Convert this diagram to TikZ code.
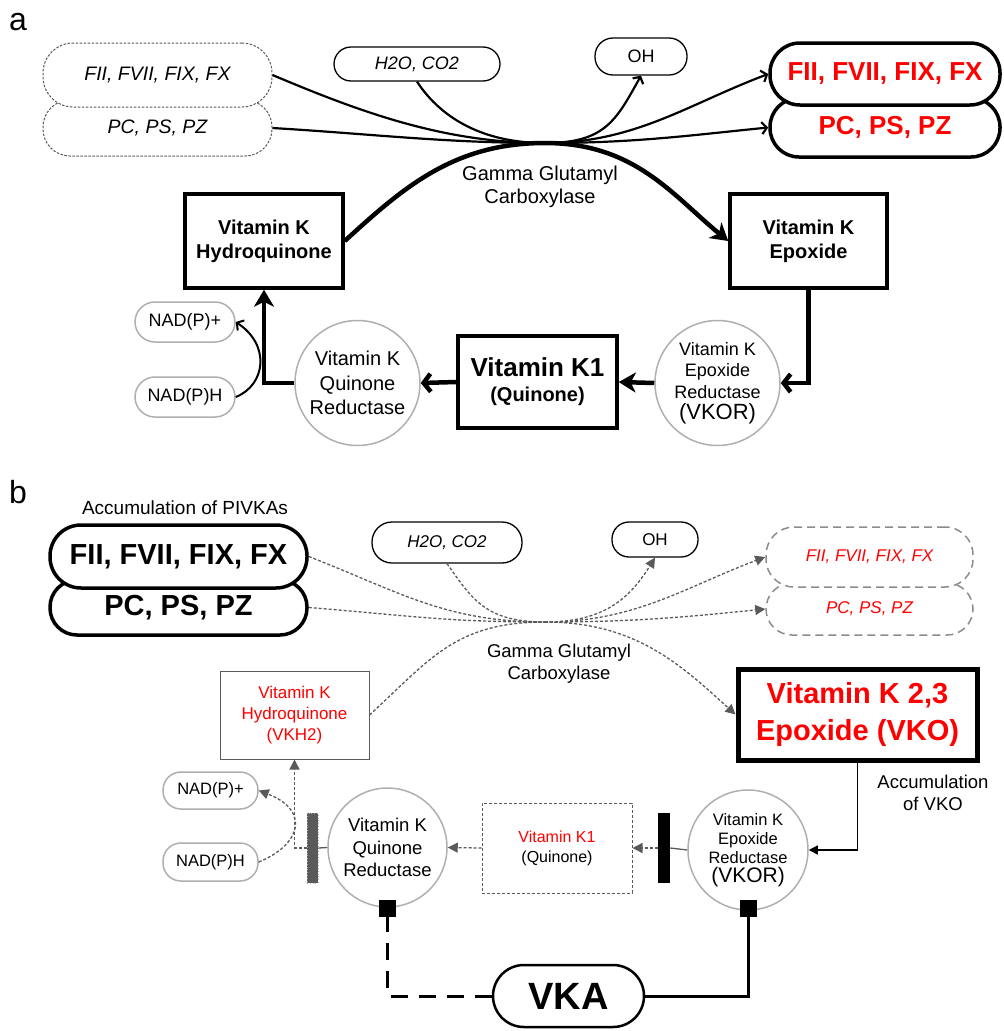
\documentclass[tikz,border=0pt]{standalone}
\usepackage{fontspec}
\setmainfont{Liberation Sans}
\usetikzlibrary{arrows.meta,calc}
\definecolor{dgray}{RGB}{90,90,90}
\definecolor{lgray}{RGB}{175,175,175}
\definecolor{mgray}{RGB}{140,140,140}
\newcommand\myfs[2]{\fontsize{#1}{#2}\selectfont}
\begin{document}
\begin{tikzpicture}[x=1pt,y=-1pt,
  every node/.style={inner sep=0pt, align=center},
  thickA/.style={line width=4.5pt},
  stl/.style={-{Stealth[length=17pt,width=20pt,inset=5pt]}},
  brb/.style={-{Straight Barb[length=7pt,width=18pt]}},
  thinA/.style={line width=2.2pt},
  tbarb/.style={-{Straight Barb[length=5pt,width=12pt]}},
  dl/.style={draw=dgray, line width=1.3pt, dash pattern=on 3pt off 2pt},
  dtip/.style={-{Triangle[length=10pt,width=10pt]}},
  dboxA/.style={draw=dgray, line width=1pt, dash pattern=on 2.5pt off 1.5pt, font=\myfs{19.5}{23}\itshape, minimum width=229pt},
  pillk/.style={draw=black, line width=1.3pt},
  rboxA/.style={draw=black, line width=3.5pt, text=red, font=\myfs{26}{30}\bfseries, minimum width=230pt},
  bbox/.style={draw=black, line width=3.5pt, font=\myfs{20}{24}\bfseries},
  circA/.style={circle, draw=lgray, line width=1.5pt, minimum size=125pt},
  nadA/.style={draw=lgray, line width=1.5pt, rounded corners=20pt, minimum width=100pt, minimum height=40pt, font=\myfs{18}{21}},
  kbox/.style={draw=black, line width=3.5pt, font=\myfs{29}{33}\bfseries, minimum width=257pt},
  rdb/.style={draw=mgray, line width=1.5pt, dash pattern=on 8pt off 5pt, text=red, font=\myfs{17}{20}\itshape, minimum width=207pt},
  nadB/.style={draw=lgray, line width=1.5pt, rounded corners=18pt, minimum width=95pt, minimum height=37pt, font=\myfs{16.5}{20}},
  circB/.style={circle, draw=lgray, line width=1.5pt},
  blk/.style={fill=black, minimum width=17pt, minimum height=17pt}
]
\useasboundingbox (0,0) rectangle (1004,1031);

% ---------------- part a ----------------
\node[anchor=base west, font=\myfs{32}{36}] (la) at (9,30) {a};

\node[dboxA, minimum height=56pt, rounded corners=27pt] (pca) at (157.5,128) {\raisebox{3pt}{PC, PS, PZ}};
\node[dboxA, fill=white, minimum height=64pt, rounded corners=30pt] (fiia) at (157.5,75) {FII, FVII, FIX, FX};

\node[pillk, minimum width=166pt, minimum height=34pt, rounded corners=17pt, font=\myfs{18}{21}\itshape] (h2oa) at (417,64) {H2O, CO2};
\node[pillk, minimum width=92pt, minimum height=37pt, rounded corners=18pt, font=\myfs{18}{21}] (oha) at (641,56.5) {OH};

\node[rboxA, minimum height=59pt, rounded corners=29pt] (rpca) at (885,127.5) {PC, PS, PZ};
\node[rboxA, fill=white, minimum height=62pt, rounded corners=30pt] (rfiia) at (885,74) {FII, FVII, FIX, FX};

\node[font=\myfs{20}{23}] (gtxta) at (540,187) {Gamma Glutamyl\\Carboxylase};

\node[bbox, minimum width=158pt, minimum height=94pt] (hqa) at (264,241) {Vitamin K\\Hydroquinone};
\node[bbox, minimum width=157pt, minimum height=94pt] (epa) at (808.5,241) {Vitamin K\\Epoxide};
\node[bbox, minimum width=159pt, minimum height=92pt] (k1a) at (537.5,382) {\myfs{26}{28}Vitamin K1\\[1pt]\myfs{20}{24}(Quinone)};

\node[circA, font=\myfs{18}{21.5}] (vkora) at (717.5,383) {Vitamin K\\Epoxide\\Reductase\\\myfs{22}{23}(VKOR)};
\node[circA, font=\myfs{20}{24.5}] (qra) at (357.5,383) {Vitamin K\\Quinone\\Reductase};

\node[nadA] (nadpa) at (185,322) {NAD(P)+};
\node[nadA] (nadha) at (185,397) {NAD(P)H};

\coordinate (gca) at (545,143);

\draw[thinA] (fiia.east) .. controls +(90,38) and +(-100,0) .. (gca);
\draw[thinA] (pca.east) .. controls +(100,6) and +(-100,0) .. (gca);
\draw[thinA] (h2oa.south) .. controls +(25,38) and +(-60,0) .. (gca);
\draw[thinA,tbarb] (gca) .. controls +(60,0) and +(-25,45) .. (oha.south);
\draw[thinA,tbarb] (gca) .. controls +(90,0) and +(-80,30) .. (rfiia.west);
\draw[thinA,tbarb] (gca) .. controls +(90,0) and +(-80,8) .. (rpca.west);

\draw[thickA,stl] (hqa.east) .. controls +(60,-55) and +(-90,0) .. (gca) .. controls +(90,0) and +(-55,-45) .. (epa.west);

\draw[thickA,brb] (epa.south) |- (vkora.east);
\draw[thickA,stl] (vkora.west) -- (k1a.east);
\draw[thickA,brb] (k1a.west) -- (qra.east);
\draw[thickA,stl] (qra.west) -| (hqa.south);
\draw[line width=2pt,tbarb] (nadha.east) .. controls +(30,-12) and +(35,23) .. (nadpa.east);

% ---------------- part b ----------------
\node[anchor=base west, font=\myfs{32}{36}] (lb) at (9,503) {b};
\node[font=\myfs{19}{22}] (accp) at (185,508) {Accumulation of PIVKAs};

\node[kbox, minimum height=55pt, rounded corners=27pt] (pcb) at (178.5,607.5) {\raisebox{4pt}{PC, PS, PZ}};
\node[kbox, fill=white, minimum height=63pt, rounded corners=31pt] (fiib) at (178.5,556.5) {FII, FVII, FIX, FX};

\node[pillk, minimum width=150pt, minimum height=41pt, rounded corners=20pt, font=\myfs{17}{20}\itshape] (h2ob) at (447,542.5) {H2O, CO2};
\node[pillk, minimum width=86pt, minimum height=35pt, rounded corners=17pt, font=\myfs{17}{20}] (ohb) at (655,539.5) {OH};

\node[rdb, minimum height=52pt, rounded corners=26pt] (rpcb) at (869.5,609) {PC, PS, PZ};
\node[rdb, fill=white, minimum height=60pt, rounded corners=28pt] (rfiib) at (869.5,557) {FII, FVII, FIX, FX};

\node[font=\myfs{18.5}{22}] (gtxtb) at (559,664) {Gamma Glutamyl\\Carboxylase};

\node[draw=dgray, line width=1pt, minimum width=149pt, minimum height=88pt, text=red, font=\myfs{17}{21}] (vkh2) at (294.5,715) {Vitamin K\\Hydroquinone\\(VKH2)};
\node[draw=black, line width=5pt, minimum width=239pt, minimum height=91pt, text=red, font=\myfs{29}{37}\bfseries] (vko) at (857.5,714.5) {Vitamin K 2,3\\Epoxide (VKO)};
\node[font=\myfs{18.5}{21.5}] (accv) at (933,793) {Accumulation\\of VKO};

\node[circB, minimum size=120pt, font=\myfs{16.5}{19}] (vkorb) at (748,850) {Vitamin K\\Epoxide\\Reductase\\\myfs{21}{23}(VKOR)};
\node[draw=dgray, line width=1pt, dash pattern=on 3pt off 2pt, minimum width=150pt, minimum height=90pt, font=\myfs{16}{20}] (k1b) at (557,848) {{\color{red}Vitamin K1}\\(Quinone)};
\node[circB, minimum size=119pt, font=\myfs{18.5}{22.5}] (qrb) at (387.5,847.5) {Vitamin K\\Quinone\\Reductase};

\node[nadB] (nadpb) at (210.5,790.5) {NAD(P)+};
\node[nadB, minimum height=38pt] (nadhb) at (210.5,862) {NAD(P)H};

\node[fill=black, minimum width=12pt, minimum height=70pt] (barv) at (664,848) {};
\node[fill=dgray, draw=lgray, dotted, line width=0.8pt, minimum width=11pt, minimum height=70pt] (barq) at (312.5,848) {};

\node[blk] (sqq) at (387.5,908.5) {};
\node[blk] (sqv) at (748,908.5) {};

\node[draw=black, line width=2.5pt, rounded corners=31pt, minimum width=151pt, minimum height=62pt, font=\myfs{38}{42}\bfseries] (vka) at (568.5,996) {VKA};

\coordinate (gcb) at (545,622);

\draw[dl] (fiib.east) .. controls +(90,35) and +(-100,0) .. (gcb);
\draw[dl] (pcb.east) .. controls +(100,8) and +(-100,0) .. (gcb);
\draw[dl] (h2ob.south) .. controls +(25,35) and +(-60,0) .. (gcb);
\draw[dl,dtip] (gcb) .. controls +(60,0) and +(-25,40) .. (ohb.south);
\draw[dl,dtip] (gcb) .. controls +(90,0) and +(-80,30) .. (rfiib.west);
\draw[dl,dtip] (gcb) .. controls +(90,0) and +(-80,8) .. (rpcb.west);
\draw[dl,dtip] (vkh2.east) .. controls +(60,-55) and +(-90,0) .. (gcb) .. controls +(90,0) and +(-55,-50) .. (vko.west);

\draw[line width=1.4pt, -{Triangle[length=9pt,width=9pt]}] (vko.south) |- (vkorb.east);
\draw[draw=dgray, line width=1.3pt] (vkorb.west) -- (barv.east);
\draw[dl,dtip] (barv.west) -- (k1b.east);
\draw[dl,dtip] (k1b.west) -- (qrb.east);
\draw[draw=dgray, line width=1.3pt] (qrb.west) -- (barq.east);
\draw[dl,dtip] (barq.west) -| (vkh2.south);
\draw[dl,dtip] (nadhb.east) .. controls +(42,-17) and +(52,20) .. (nadpb.east);

\draw[line width=3pt, dash pattern=on 17pt off 11pt] (vka.west) -| (sqq.south);
\draw[line width=3pt] (vka.east) -| (sqv.south);
\end{tikzpicture}
\end{document}
